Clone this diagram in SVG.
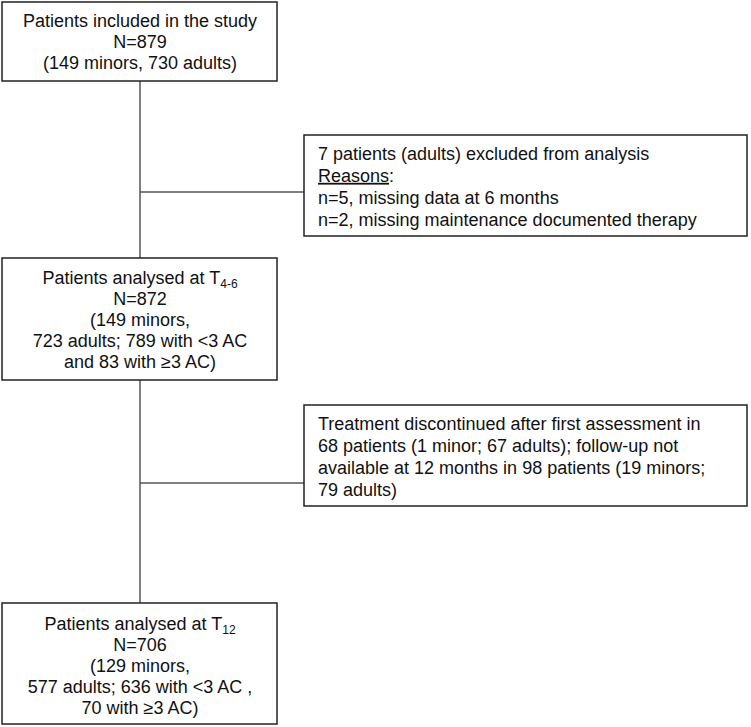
<svg xmlns="http://www.w3.org/2000/svg" width="751" height="727" viewBox="0 0 751 727">
<style>
.box{fill:#fff;stroke:#222;stroke-width:1.5}
.con{stroke:#555;stroke-width:1.5;fill:none}
text{font-family:"Liberation Sans",Arial,sans-serif;font-size:18px;fill:#111}
.c{text-anchor:middle}
.sub{font-size:12px}
</style>
<rect width="751" height="727" fill="#fff"/>
<g id="connectors">
<line class="con" x1="140" y1="81" x2="140" y2="258"/>
<line class="con" x1="140" y1="192" x2="304" y2="192"/>
<line class="con" x1="140" y1="380" x2="140" y2="603"/>
<line class="con" x1="140" y1="483" x2="304" y2="483"/>
</g>
<g id="n1">
<rect class="box" x="2" y="2" width="275" height="79"/>
<text class="c" x="140" y="27">Patients included in the study</text>
<text class="c" x="140" y="48">N=879</text>
<text class="c" x="140" y="69">(149 minors, 730 adults)</text>
</g>
<g id="n2">
<rect class="box" x="304" y="135" width="443" height="101"/>
<text x="318" y="159.5">7 patients (adults) excluded from analysis</text>
<text x="318" y="181.8"><tspan text-decoration="underline">Reasons</tspan>:</text>
<text x="318" y="204">n=5, missing data at 6 months</text>
<text x="318" y="226.4">n=2, missing maintenance documented therapy</text>
</g>
<g id="n3">
<rect class="box" x="2" y="258" width="275" height="122"/>
<text class="c" x="140" y="284">Patients analysed at T<tspan class="sub" dy="4">4-6</tspan></text>
<text class="c" x="140" y="305">N=872</text>
<text class="c" x="140" y="326">(149 minors,</text>
<text class="c" x="140" y="347">723 adults; 789 with &lt;3 AC</text>
<text class="c" x="140" y="368">and 83 with ≥3 AC)</text>
</g>
<g id="n4">
<rect class="box" x="304" y="405" width="443" height="101"/>
<text x="318" y="429.5">Treatment discontinued after first assessment in</text>
<text x="318" y="451.8">68 patients (1 minor; 67 adults); follow-up not</text>
<text x="318" y="474">available at 12 months in 98 patients (19 minors;</text>
<text x="318" y="496.4">79 adults)</text>
</g>
<g id="n5">
<rect class="box" x="2" y="603" width="275" height="121"/>
<text class="c" x="140" y="630">Patients analysed at T<tspan class="sub" dy="4">12</tspan></text>
<text class="c" x="140" y="651">N=706</text>
<text class="c" x="140" y="672">(129 minors,</text>
<text class="c" x="140" y="693">577 adults; 636 with &lt;3 AC ,</text>
<text class="c" x="140" y="714">70 with ≥3 AC)</text>
</g>
</svg>
